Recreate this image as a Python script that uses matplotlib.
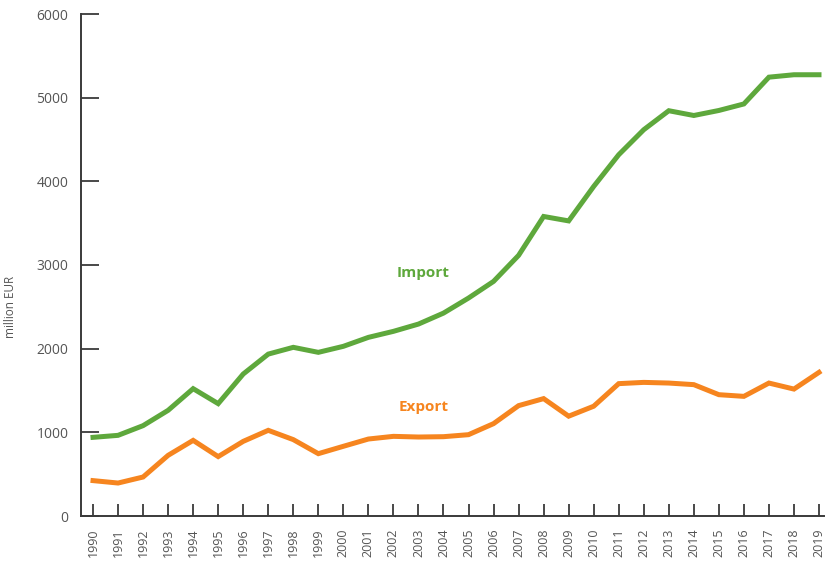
import matplotlib.pyplot as plt

# --- Data (million EUR) ---
years = list(range(1990, 2020))
imports = [940, 964, 1080, 1263, 1522, 1343, 1697, 1935, 2016, 1956,
           2028, 2135, 2207, 2294, 2425, 2605, 2804, 3115, 3580, 3527,
           3939, 4318, 4617, 4844, 4787, 4847, 4925, 5245, 5274, 5274]
exports = [423, 394, 466, 725, 904, 710, 892, 1024, 913, 745,
           833, 920, 952, 944, 948, 972, 1104, 1319, 1403, 1193,
           1312, 1582, 1597, 1589, 1570, 1450, 1430, 1589, 1517, 1717]
y_ticks = [0, 1000, 2000, 3000, 4000, 5000, 6000]

GREEN = '#5ea83c'
ORANGE = '#f6851f'
AXIS = '#3a3a3a'
TEXT = '#555555'

plt.rcParams['font.family'] = ['Open Sans', 'DejaVu Sans']

fig = plt.figure(figsize=(8.26, 5.61), dpi=100)
ax = fig.add_axes([81 / 826, 45 / 561, 743 / 826, 502 / 561])

ax.plot(years, imports, color=GREEN, linewidth=3.6, solid_joinstyle='miter')
ax.plot(years, exports, color=ORANGE, linewidth=3.6, solid_joinstyle='miter')

ax.text(2003.2, 2900, 'Import', color=GREEN, fontsize=11, fontweight='bold', ha='center', va='center')
ax.text(2003.2, 1300, 'Export', color=ORANGE, fontsize=11, fontweight='bold', ha='center', va='center')

ax.set_xlim(1989.52, 2019.2)
ax.set_ylim(0, 6000)
ax.set_xticks(years)
ax.set_xticklabels([str(y) for y in years], rotation=90)
ax.set_yticks(y_ticks)
ax.set_ylabel('million EUR', fontsize=8.5, color=TEXT)
ax.yaxis.set_label_coords(-0.086, 0.416)

for side in ['top', 'right']:
    ax.spines[side].set_visible(False)
for side in ['left', 'bottom']:
    ax.spines[side].set_color(AXIS)
    ax.spines[side].set_linewidth(1.4)

ax.tick_params(axis='y', direction='in', length=13, width=1.3, color=AXIS,
               labelsize=10, labelcolor=TEXT, pad=9)
ax.tick_params(axis='x', direction='in', length=8.5, width=1.3, color=AXIS,
               labelsize=9, labelcolor=TEXT, pad=9)

fig.savefig('out.png', dpi=100)
plt.close(fig)
